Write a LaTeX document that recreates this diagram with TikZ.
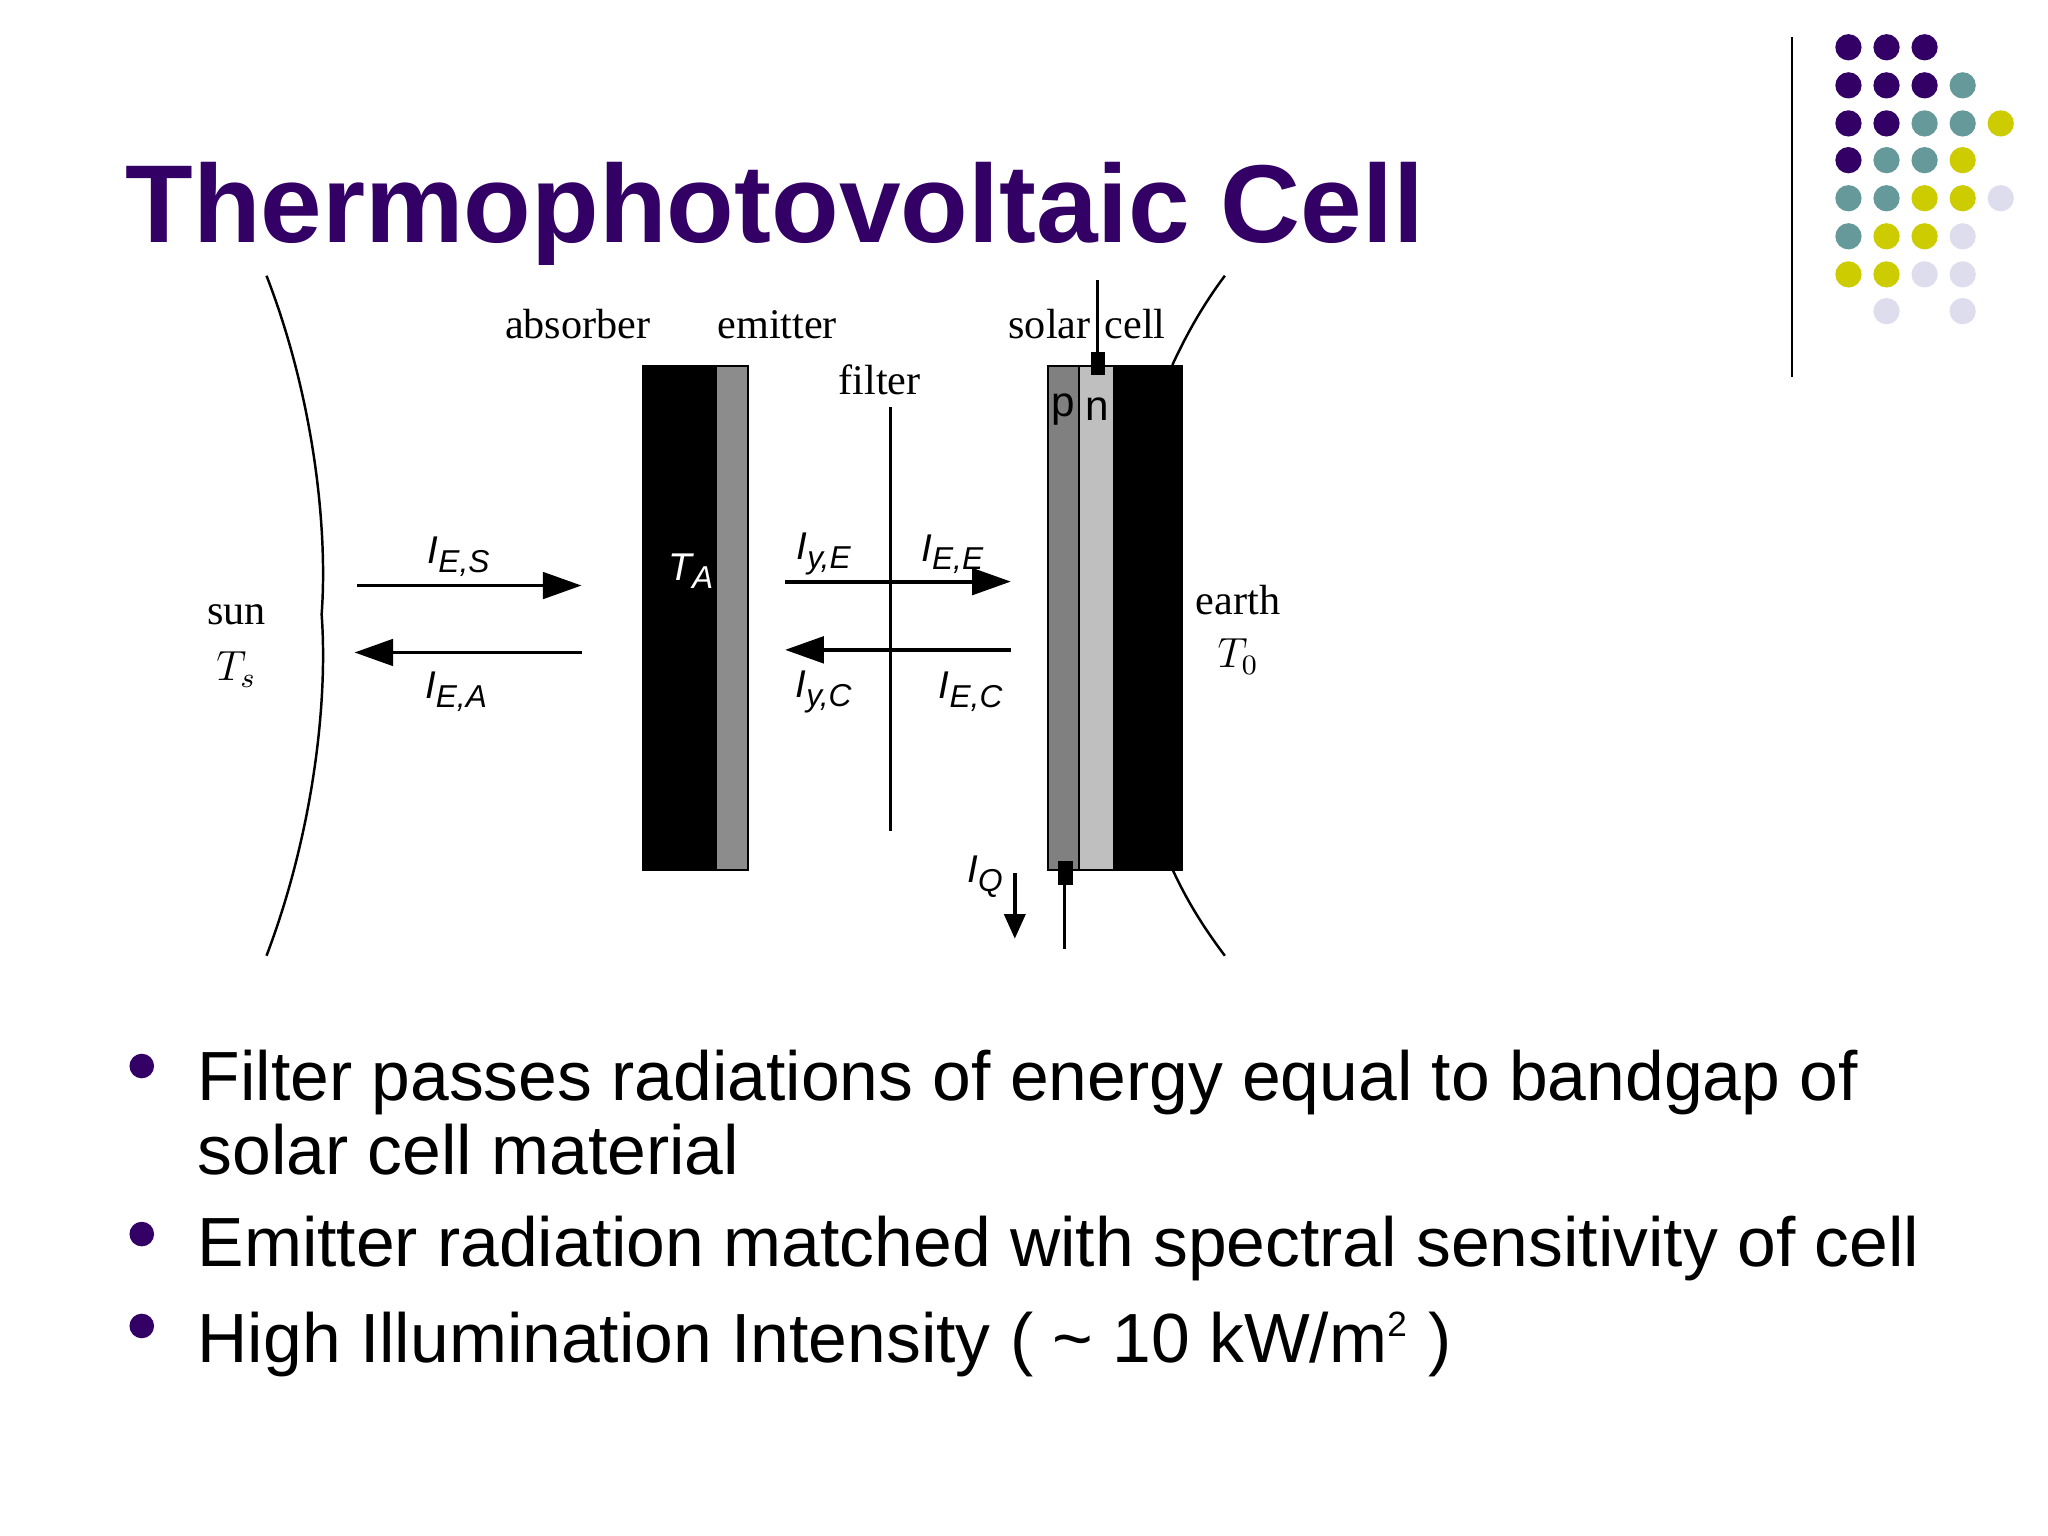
\documentclass[tikz,border=0pt]{standalone}
\usepackage{fontspec}
\setmainfont{Liberation Serif}
\setsansfont{Liberation Sans}
\usetikzlibrary{arrows.meta}
\definecolor{pur}{HTML}{330066}
\definecolor{tea}{HTML}{669999}
\definecolor{yel}{HTML}{CCCC00}
\definecolor{lav}{HTML}{DDDDEE}
\newcommand{\sbs}[1]{\textsubscript{\fontsize{9}{10}\selectfont #1}}
\tikzset{
 big/.style={line width=1.1pt,-{Triangle[length=11pt,width=7.5pt]}},
 lab/.style={font=\sffamily\itshape\fontsize{11}{13}\selectfont},
 slab/.style={font=\fontsize{12}{14}\selectfont},
 bul/.style={anchor=base west,inner sep=0pt,font=\sffamily\fontsize{19.8}{24}\selectfont},
 bdot/.style={circle,fill=pur,inner sep=0pt,minimum size=7pt},
}
\begin{document}
\begin{tikzpicture}[x=0.013128cm,y=-0.013128cm]
\useasboundingbox (0,0) rectangle (1560,1170);
\fill[white] (0,0) rectangle (1560,1170);
% dots
\foreach \c/\x/\y in {pur/1408/36,pur/1437/36,pur/1466/36,
 pur/1408/65,pur/1437/65,pur/1466/65,tea/1495/65,
 pur/1408/94,pur/1437/94,tea/1466/94,tea/1495/94,yel/1524/94,
 pur/1408/122,tea/1437/122,tea/1466/122,yel/1495/122,
 tea/1408/151,tea/1437/151,yel/1466/151,yel/1495/151,lav/1524/151,
 tea/1408/180,yel/1437/180,yel/1466/180,lav/1495/180,
 yel/1408/209,yel/1437/209,lav/1466/209,lav/1495/209,
 lav/1437/237,lav/1495/237}
 \fill[\c] (\x,\y) circle (10);
\draw[line width=0.8pt] (1365,28) -- (1365,287);
\node[anchor=base west,text=pur,font=\sffamily\bfseries\fontsize{31.5}{34}\selectfont,inner sep=0pt] (title) at (95,185) {Thermophotovoltaic Cell};
% sun / earth arcs
\draw[line width=0.7pt] (203,210) .. controls (238,300) and (250,400) .. (245,468) .. controls (250,536) and (238,636) .. (203,728);
\draw[line width=0.7pt] (933,210) .. controls (918,230) and (905,252) .. (893,278);
\draw[line width=0.7pt] (893,662) .. controls (905,688) and (918,708) .. (933,728);
% absorber/emitter
\fill[black] (490,279) rectangle (545,663);
\filldraw[fill=black!45,draw=black,line width=0.6pt] (545,279) rectangle (570,663);
\draw[line width=0.6pt] (490,279) rectangle (570,663);
% filter
\draw[line width=0.8pt] (678,310) -- (678,633);
% solar cell
\fill[black!50] (798,279) rectangle (822,663);
\fill[black!25] (822,279) rectangle (848,663);
\fill[black] (848,279) rectangle (900,663);
\draw[line width=0.6pt] (798,279) rectangle (900,663) (822,279)--(822,663);
\draw[line width=1pt] (836,213) -- (836,279);
\fill (831,268) rectangle (842,286);
\fill (806,656) rectangle (817,674);
\draw[line width=1pt] (811,656) -- (811,723);
\draw[line width=1pt,-{Triangle[length=7pt,width=6pt]}] (773,665) -- (773,715);
% arrows
\coordinate (a1) at (272,446); \coordinate (a2) at (443,446);
\coordinate (b1) at (443,497); \coordinate (b2) at (270,497);
\coordinate (c1) at (598,443); \coordinate (c2) at (770,443);
\coordinate (d1) at (770,495); \coordinate (d2) at (598,495);
\draw[big] (a1) -- (a2);
\draw[big] (b1) -- (b2);
\draw[big] (c1) -- (c2);
\draw[big] (d1) -- (d2);
% labels
\node[lab] (l1) at (350,424) {I\sbs{E,S}};
\node[lab] (l2) at (348,527) {I\sbs{E,A}};
\node[lab,text=white] (l3) at (527,435) {T\sbs{A}};
\node[lab] (l4) at (628,422) {I\sbs{y,E}};
\node[lab] (l5) at (726,422) {I\sbs{E,E}};
\node[lab] (l6) at (628,527) {I\sbs{y,C}};
\node[lab] (l7) at (740,527) {I\sbs{E,C}};
\node[lab] (l8) at (751,668) {I\sbs{Q}};
\node[font=\sffamily\fontsize{12}{14}\selectfont] (p) at (810,312) {p};
\node[font=\sffamily\fontsize{12}{14}\selectfont] (n) at (836,312) {n};
\node[slab] (sun) at (180,468) {sun};
\node[slab] (ts) at (180,510) {$T_s$};
\node[slab] (earth) at (943,457) {earth};
\node[slab] (t0) at (943,500) {$T_0$};
\node[slab] (abs) at (440,247) {absorber};
\node[slab] (emi) at (592,247) {emitter};
\node[slab] (fil) at (670,289) {filter};
\node[slab] (sc) at (828,247) {solar\,\,cell};
% bullets
\node[bdot] (d1b) at (108,812) {};
\node[bdot] (d2b) at (108,940) {};
\node[bdot] (d3b) at (108,1010) {};
\node[bul] (t1) at (150,838) {Filter passes radiations of energy equal to bandgap of};
\node[bul] (t1b) at (150,895) {solar cell material};
\node[bul] (t2) at (150,965) {Emitter radiation matched with spectral sensitivity of cell};
\node[bul] (t3) at (150,1038) {High Illumination Intensity ( \textasciitilde{} 10 kW/m\textsuperscript{\fontsize{10}{10}\selectfont 2} )};
\end{tikzpicture}
\end{document}
